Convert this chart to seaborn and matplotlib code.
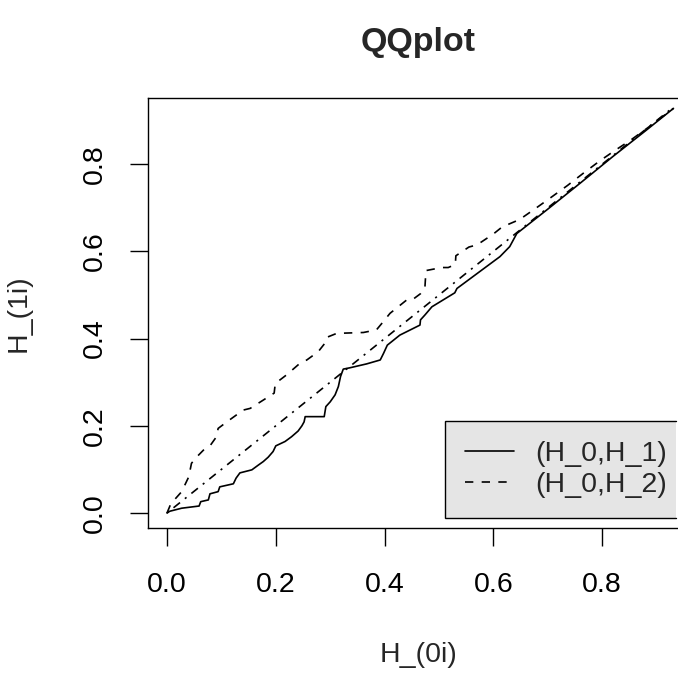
import matplotlib
matplotlib.use("Agg")
import matplotlib.pyplot as plt
from matplotlib.lines import Line2D
import seaborn as sns
import pandas as pd

# ---- data ----
h1_x = [0.000, 0.005, 0.027, 0.059, 0.062, 0.076, 0.079, 0.094, 0.097, 0.122, 0.127, 0.134,
        0.156, 0.168, 0.177, 0.186, 0.195, 0.200, 0.217, 0.229, 0.241, 0.248, 0.252, 0.254,
        0.289, 0.292, 0.300, 0.309, 0.315, 0.319, 0.324, 0.336, 0.367, 0.392, 0.398, 0.405,
        0.428, 0.465, 0.466, 0.474, 0.487, 0.529, 0.533, 0.612, 0.630, 0.643, 0.700, 0.760,
        0.820, 0.880, 0.931]
h1_y = [0.000, 0.004, 0.011, 0.016, 0.026, 0.030, 0.044, 0.049, 0.060, 0.067, 0.080, 0.092,
        0.099, 0.110, 0.118, 0.128, 0.141, 0.154, 0.164, 0.175, 0.188, 0.200, 0.209, 0.221,
        0.221, 0.244, 0.255, 0.271, 0.290, 0.313, 0.330, 0.333, 0.342, 0.351, 0.366, 0.385,
        0.408, 0.431, 0.443, 0.454, 0.473, 0.505, 0.515, 0.588, 0.611, 0.641, 0.697, 0.757,
        0.818, 0.877, 0.928]

h2_x = [0.000, 0.007, 0.027, 0.040, 0.045, 0.055, 0.070, 0.079, 0.091, 0.094, 0.110, 0.140,
        0.153, 0.177, 0.197, 0.199, 0.220, 0.244, 0.257, 0.278, 0.290, 0.294, 0.312, 0.361,
        0.385, 0.395, 0.410, 0.422, 0.441, 0.452, 0.466, 0.474, 0.476, 0.505, 0.517, 0.530,
        0.531, 0.555, 0.570, 0.600, 0.616, 0.648, 0.678, 0.705, 0.736, 0.765, 0.796, 0.824,
        0.852, 0.882, 0.931]
h2_y = [0.000, 0.021, 0.049, 0.083, 0.114, 0.129, 0.148, 0.154, 0.175, 0.194, 0.209, 0.236,
        0.240, 0.259, 0.275, 0.297, 0.317, 0.343, 0.351, 0.370, 0.389, 0.403, 0.412, 0.414,
        0.420, 0.435, 0.458, 0.470, 0.489, 0.490, 0.503, 0.515, 0.556, 0.563, 0.563, 0.570,
        0.590, 0.610, 0.615, 0.640, 0.656, 0.673, 0.699, 0.723, 0.751, 0.779, 0.808, 0.832,
        0.855, 0.882, 0.928]

ref_x = [0.000, 0.931]
ref_y = [0.000, 0.931]

legend_labels = ["(H_0,H_1)", "(H_0,H_2)"]
x_ticks = [0.0, 0.2, 0.4, 0.6, 0.8]
y_ticks = [0.0, 0.2, 0.4, 0.6, 0.8]
tick_labels = ["0.0", "0.2", "0.4", "0.6", "0.8"]

# ---- style ----
sns.set_style("ticks")
plt.rcParams["font.family"] = ["Liberation Sans", "DejaVu Sans"]

W, H = 678, 673
fig = plt.figure(figsize=(W / 100, H / 100), dpi=100)
# plot region in pixels: left 148, right 688 (beyond image), top 98, bottom 528
ax = fig.add_axes([148 / W, (H - 528) / H, 540 / W, 430 / H])

df1 = pd.DataFrame({"x": h1_x, "y": h1_y})
df2 = pd.DataFrame({"x": h2_x, "y": h2_y})
dfr = pd.DataFrame({"x": ref_x, "y": ref_y})

lw = 1.2
dash = (0, (5, 5))
dotdash = (0, (1.25, 3.75, 5, 3.75))
sns.lineplot(data=dfr, x="x", y="y", ax=ax, color="black", lw=lw,
             estimator=None, sort=False, linestyle=dotdash)
sns.lineplot(data=df2, x="x", y="y", ax=ax, color="black", lw=lw,
             estimator=None, sort=False, linestyle=dash)
sns.lineplot(data=df1, x="x", y="y", ax=ax, color="black", lw=lw,
             estimator=None, sort=False, linestyle="-")

ax.set_xlim((148 - 167) / 544, (688 - 167) / 544)
ax.set_ylim((513 - 528) / 436, (513 - 98) / 436)

ax.set_xticks(x_ticks)
ax.set_xticklabels(tick_labels)
ax.set_yticks(y_ticks)
ax.set_yticklabels(tick_labels, rotation=90, va="center")

fs = 20.5
ax.tick_params(axis="both", length=13, width=1.0, color="black",
               labelsize=fs, labelcolor="black", direction="out")
ax.tick_params(axis="x", pad=19)
ax.tick_params(axis="y", pad=16)
for name, s in ax.spines.items():
    s.set_linewidth(1.0)
    s.set_color("black")
    s.set_visible(True)
ax.spines["right"].set_visible(False)

ax.set_xlabel("H_(0i)", fontsize=fs)
ax.set_ylabel("H_(1i)", fontsize=fs)
ax.xaxis.label.set_va("center")
ax.yaxis.label.set_va("center")
ax.yaxis.label.set_ha("center")
ax.xaxis.set_label_coords(0.5, (528 - 655) / 430)
ax.yaxis.set_label_coords((19 - 148) / 540, 0.5)

ax.set_title("QQplot", fontsize=24.5, fontweight="bold", y=(528 - 51) / 430, va="center")

handles = [Line2D([], [], color="black", lw=lw, linestyle="-"),
           Line2D([], [], color="black", lw=lw, linestyle=dash)]
leg = ax.legend(handles, legend_labels, loc="lower left",
                bbox_to_anchor=((445 - 148) / 540, (528 - 518) / 430,
                                (676 - 445) / 540, 97 / 430),
                mode="expand",
                fontsize=fs, frameon=True, fancybox=False, facecolor="#E5E5E5",
                edgecolor="none", framealpha=1, handlelength=1.72,
                handletextpad=0.74, labelspacing=0.18, borderpad=0.7,
                borderaxespad=0.0)

# legend border: left, top and bottom sides only (right side lies off the image)
fig.canvas.draw()
bb = leg.get_frame().get_window_extent()
border = Line2D([bb.x1 / W, bb.x0 / W, bb.x0 / W, bb.x1 / W],
                [bb.y1 / H, bb.y1 / H, bb.y0 / H, bb.y0 / H],
                transform=fig.transFigure, color="black", lw=1.0,
                solid_joinstyle="miter")
fig.add_artist(border)

fig.savefig("out.png", dpi=100)
